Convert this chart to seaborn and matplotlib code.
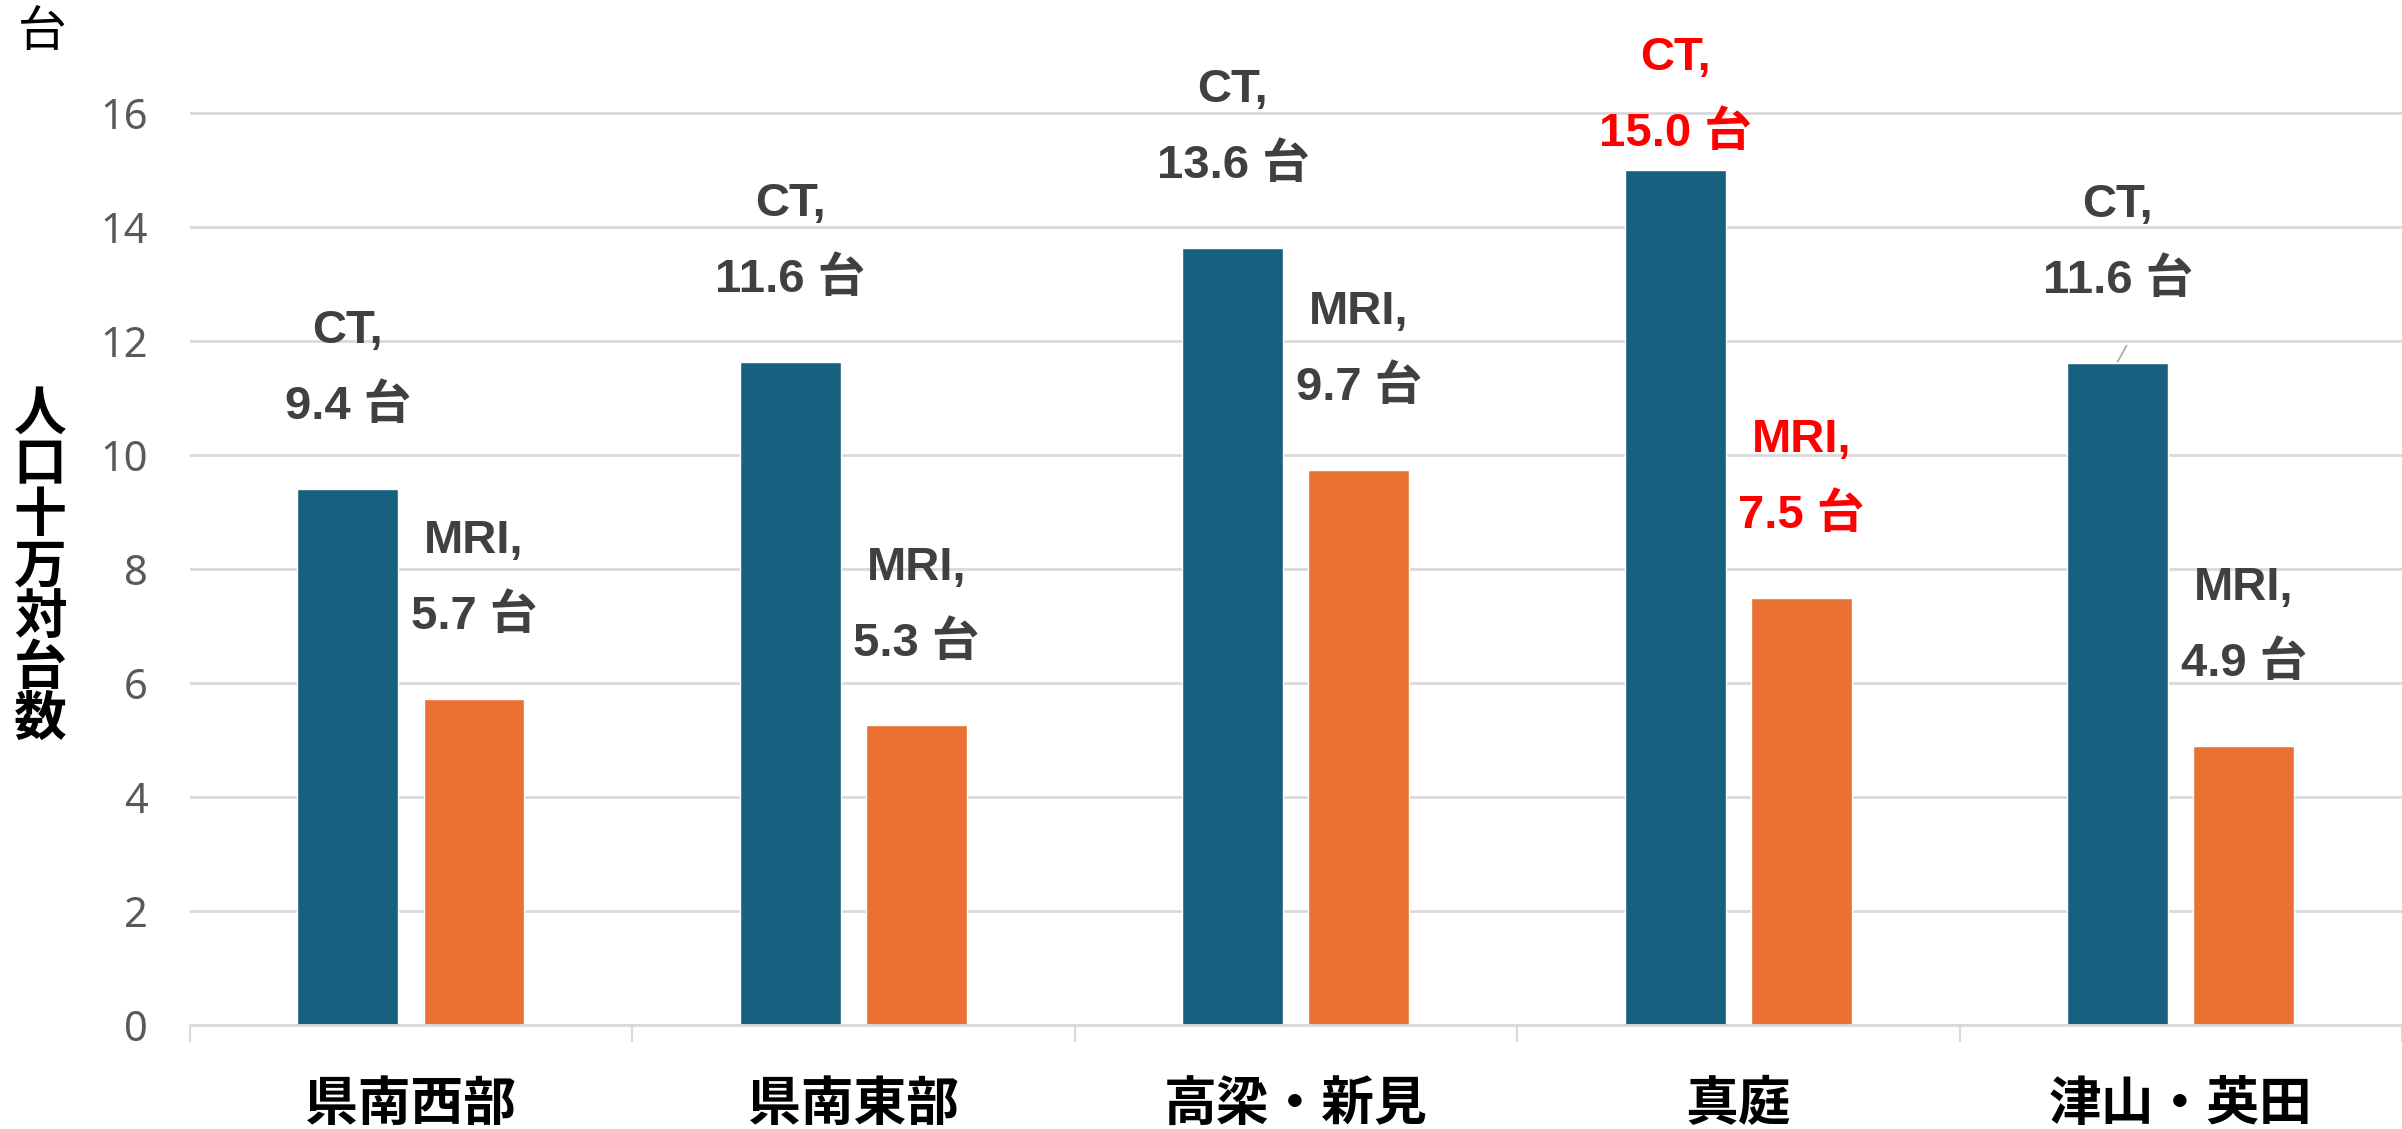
import pandas as pd
import matplotlib
matplotlib.use("Agg")
import matplotlib.pyplot as plt
import seaborn as sns

# data (units per 100k population)
areas = ["県南西部", "県南東部", "高梁・新見", "真庭", "津山・英田"]
ct_units = [9.41, 11.63, 13.64, 15.0, 11.62]
mri_units = [5.72, 5.26, 9.74, 7.49, 4.9]
devices = ["CT", "MRI"]
highlight = "真庭"
leader_area = "津山・英田"   # the one CT label drawn with a leader line

df = pd.DataFrame({
    "area": areas * 2,
    "device": ["CT"] * len(areas) + ["MRI"] * len(areas),
    "value": ct_units + mri_units,
})

sns.set_theme(style="white")
plt.rcParams["font.family"] = ["Liberation Sans", "Noto Sans CJK JP", "DejaVu Sans"]

fig = plt.figure(figsize=(24.02, 11.29), dpi=100)
ax = fig.add_axes([0.079, 0.092, 0.921, 0.8836])

sns.barplot(data=df, x="area", y="value", hue="device", order=areas, hue_order=devices,
            palette={"CT": "#17607F", "MRI": "#E97132"}, width=0.57, gap=0.2,
            saturation=1, legend=False, ax=ax)

ax.set_xlim(-0.5, len(areas) - 0.5)
ax.set_ylim(0, 17.5)
ax.set_yticks(range(0, 17, 2))
ax.yaxis.grid(True, color="#d9d9d9", linewidth=2)
ax.set_axisbelow(True)
for s in ["left", "right", "top"]:
    ax.spines[s].set_visible(False)
ax.spines["bottom"].set_color("#d9d9d9")
ax.spines["bottom"].set_linewidth(2)

ax.tick_params(axis="y", length=0, pad=30, labelsize=30, labelcolor="#595959")
for t in ax.get_yticklabels():
    t.set_family(["Noto Sans", "DejaVu Sans"])
ax.set_xticks(range(len(areas)))
ax.set_xticks([i - 0.5 for i in range(len(areas) + 1)], minor=True)
ax.tick_params(axis="x", which="major", length=0, pad=38)
ax.tick_params(axis="x", which="minor", length=12, width=1.5, color="#d9d9d9", bottom=True)
ax.set_xticklabels(areas, fontsize=38, fontweight="bold", family=["Noto Sans CJK JP"], color="black")
ax.set_xlabel("")
ax.set_ylabel("")

# data labels "CT,\n9.4 台"
for dev, cont in zip(devices, ax.containers):
    for area, bar in zip(areas, cont):
        h = bar.get_height()
        x = bar.get_x() + bar.get_width() / 2
        col = "#FF0000" if area == highlight else "#404040"
        ax.text(x, min(h + 2.1, 16.3), f"{dev},\n{h:.1f} 台", ha="center", va="center",
                fontsize=34, fontweight="bold", color=col, linespacing=1.9,
                family=["Liberation Sans", "Noto Sans CJK JP"], clip_on=False)
        if dev == "CT" and area == leader_area:
            ax.plot([x, x + 0.02], [h + 0.02, h + 0.3], color="#a6a6a6", lw=1.2)

fig.text(0.0175, 0.971, "台", fontsize=35, ha="center", va="center",
         family=["Noto Sans CJK JP"], color="black")
fig.text(0.0167, 0.498, "\n".join("人口十万対台数"), fontsize=38, fontweight="bold",
         ha="center", va="center", linespacing=0.95, family=["Noto Sans CJK JP"], color="black")

fig.savefig("out.png", dpi=100)
